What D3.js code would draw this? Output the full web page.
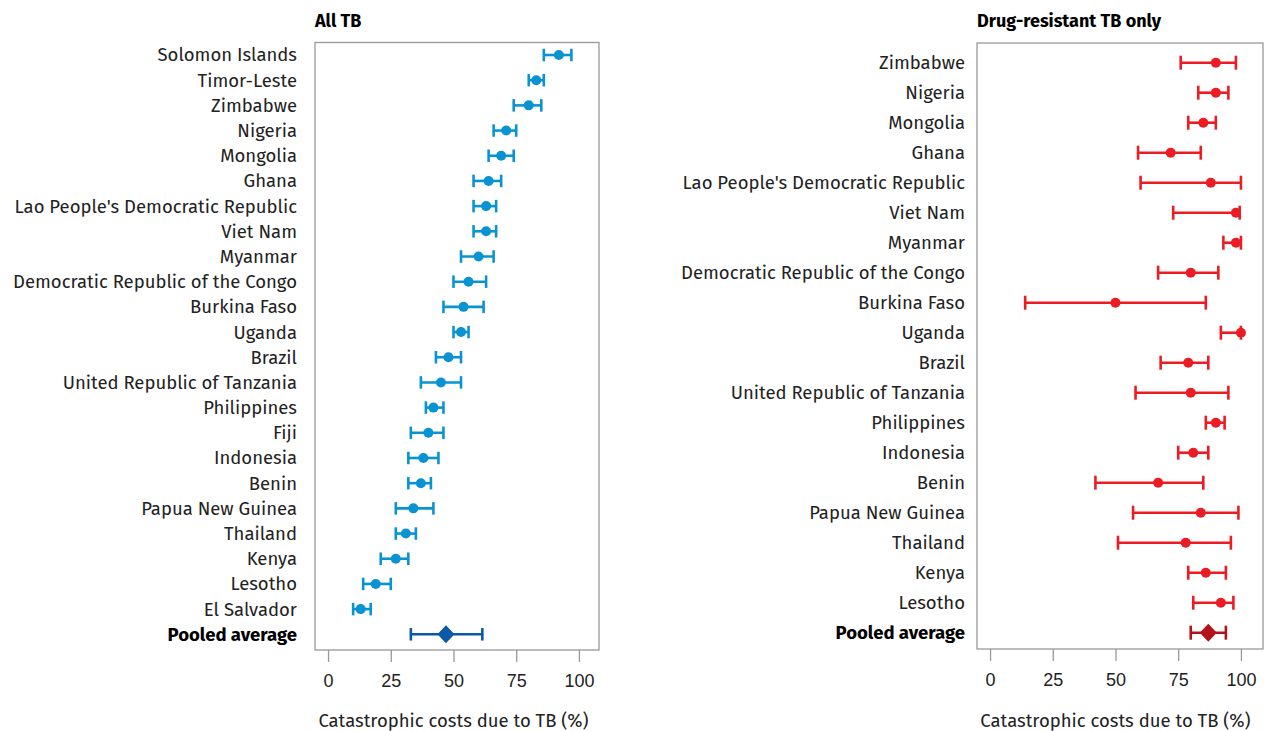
<!DOCTYPE html>
<html>
<head>
<meta charset="utf-8">
<script src="https://cdn.jsdelivr.net/npm/d3@7"></script>
<style>
  body { margin: 0; background: #fff; }
  svg { font-family: 'Fira Sans', 'Noto Sans', sans-serif; }
  .country { font-size: 18.5px; fill: #222; }
  .pooled { font-weight: bold; fill: #000; }
  .panel-title { font-size: 18px; font-weight: bold; }
  .tick-label { font-size: 18px; fill: #222; }
  .axis-label { font-size: 18.5px; fill: #222; }
</style>
</head>
<body>
<svg width="1266" height="731"></svg>
<script>
// All TB
const allCountries = ['Solomon Islands', 'Timor-Leste', 'Zimbabwe', 'Nigeria', 'Mongolia', 'Ghana',
  "Lao People's Democratic Republic", 'Viet Nam', 'Myanmar', 'Democratic Republic of the Congo',
  'Burkina Faso', 'Uganda', 'Brazil', 'United Republic of Tanzania', 'Philippines', 'Fiji',
  'Indonesia', 'Benin', 'Papua New Guinea', 'Thailand', 'Kenya', 'Lesotho', 'El Salvador']
const allEst = [92, 83, 80, 71, 69, 64, 63, 63, 60, 56, 54, 53, 48, 45, 42, 40, 38, 37, 34, 31, 27, 19, 13]
const allLow = [86, 80, 74, 66, 64, 58, 58, 58, 53, 50, 46, 50, 43, 37, 39, 33, 32, 32, 27, 27, 21, 14, 10]
const allHigh = [97, 86, 85, 75, 74, 69, 67, 67, 66, 63, 62, 56, 53, 53, 46, 46, 44, 41, 42, 35, 32, 25, 17]
const allPooled = {est: 47, low: 33, high: 61.5}

// Drug-resistant TB only
const drCountries = ['Zimbabwe', 'Nigeria', 'Mongolia', 'Ghana', "Lao People's Democratic Republic",
  'Viet Nam', 'Myanmar', 'Democratic Republic of the Congo', 'Burkina Faso', 'Uganda', 'Brazil',
  'United Republic of Tanzania', 'Philippines', 'Indonesia', 'Benin', 'Papua New Guinea',
  'Thailand', 'Kenya', 'Lesotho']
const drEst = [90, 90, 85, 72, 88, 98, 98, 80, 50, 100, 79, 80, 90, 81, 67, 84, 78, 86, 92]
const drLow = [76, 83, 79, 59, 60, 73, 93, 67, 14, 92, 68, 58, 86, 75, 42, 57, 51, 79, 81]
const drHigh = [98, 95, 90, 84, 100, 99.5, 100, 91, 86, 100, 87, 95, 93.5, 87, 85, 99, 96, 94, 97]
const drPooled = {est: 87, low: 80, high: 94}

const xTicks = [0, 25, 50, 75, 100]
const pooledLabel = 'Pooled average'

const svg = d3.select('svg')

const panels = [
  {title: 'All TB', countries: allCountries, est: allEst, low: allLow, high: allHigh, pooled: allPooled,
   box: {left: 315, right: 599, top: 42.5, bottom: 650}, domain: [-5.2, 108], yRange: [55, 634.3],
   labelX: 297, color: '#0a93d2', dark: '#0b58a6', cap: 12.5, r: 5},
  {title: 'Drug-resistant TB only', countries: drCountries, est: drEst, low: drLow, high: drHigh, pooled: drPooled,
   box: {left: 977, right: 1263, top: 43, bottom: 649}, domain: [-5.2, 108.8], yRange: [62.7, 632.7],
   labelX: 965, color: '#ec1c24', dark: '#b3121b', cap: 14, r: 5}
]

const render = p => {
  const rows = p.countries.map((c, i) => ({country: c, est: p.est[i], low: p.low[i], high: p.high[i]}))

  const xScale = d3.scaleLinear()
    .domain(p.domain)
    .range([p.box.left, p.box.right])

  const yScale = d3.scalePoint()
    .domain([...p.countries, pooledLabel])
    .range(p.yRange)

  const g = svg.append('g')

  g.append('text')
    .attr('class', 'panel-title')
    .attr('x', p.box.left)
    .attr('y', 27)
    .text(p.title)

  g.append('rect')
    .attr('x', p.box.left)
    .attr('y', p.box.top)
    .attr('width', p.box.right - p.box.left)
    .attr('height', p.box.bottom - p.box.top)
    .attr('fill', 'none')
    .attr('stroke', '#999')
    .attr('stroke-width', 1.3)

  // x axis
  const xAxis = d3.axisBottom(xScale)
    .tickValues(xTicks)
    .tickSize(12)
    .tickPadding(12)

  const xAxisG = g.append('g')
    .attr('transform', `translate(0, ${p.box.bottom})`)
    .call(xAxis)
  xAxisG.select('.domain').remove()
  xAxisG.selectAll('.tick line').attr('stroke', '#999').attr('stroke-width', 1.3)
  xAxisG.selectAll('.tick text').attr('class', 'tick-label').attr('font-size', null).attr('font-family', null)

  g.append('text')
    .attr('class', 'axis-label')
    .attr('x', (xScale(0) + xScale(100)) / 2)
    .attr('y', 727)
    .attr('text-anchor', 'middle')
    .text('Catastrophic costs due to TB (%)')

  // row labels
  g.selectAll('.country').data([...p.countries, pooledLabel])
    .enter().append('text')
      .attr('class', d => d === pooledLabel ? 'country pooled' : 'country')
      .attr('x', p.labelX)
      .attr('y', d => yScale(d))
      .attr('dy', '0.35em')
      .attr('text-anchor', 'end')
      .text(d => d)

  // error bars
  const drawBar = (sel, color, cap) => {
    sel.append('line')
      .attr('x1', d => xScale(d.low))
      .attr('x2', d => xScale(d.high))
      .attr('y1', d => yScale(d.country))
      .attr('y2', d => yScale(d.country))
      .attr('stroke', color)
      .attr('stroke-width', 2.6)
    ;['low', 'high'].forEach(k => {
      sel.append('line')
        .attr('x1', d => xScale(d[k]))
        .attr('x2', d => xScale(d[k]))
        .attr('y1', d => yScale(d.country) - cap / 2)
        .attr('y2', d => yScale(d.country) + cap / 2)
        .attr('stroke', color)
        .attr('stroke-width', 2.6)
    })
  }

  const bars = g.selectAll('.row').data(rows)
    .enter().append('g')
      .attr('class', 'row')
  drawBar(bars, p.color, p.cap)
  bars.append('circle')
    .attr('cx', d => xScale(d.est))
    .attr('cy', d => yScale(d.country))
    .attr('r', p.r)
    .attr('fill', p.color)

  const pooledRow = {country: pooledLabel, ...p.pooled}
  const pg = g.selectAll('.pooled-row').data([pooledRow])
    .enter().append('g')
      .attr('class', 'pooled-row')
  drawBar(pg, p.dark, p.cap)
  pg.append('path')
    .attr('d', 'M0,-9L8.5,0L0,9L-8.5,0Z')
    .attr('transform', d => `translate(${xScale(d.est)}, ${yScale(d.country)})`)
    .attr('fill', p.dark)
}

panels.forEach(render)
</script>
</body>
</html>
